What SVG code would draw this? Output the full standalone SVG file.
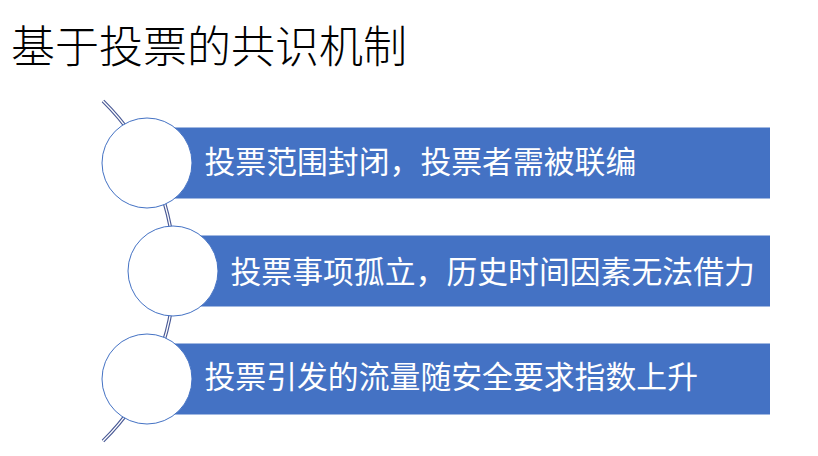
<svg xmlns="http://www.w3.org/2000/svg" width="818" height="456" viewBox="0 0 818 456">
  <style>
    .bar { fill: #4472C4; }
    .dot { fill: #FFFFFF; stroke: #4472C4; stroke-width: 1; }
    .lbl { fill: #FFFFFF; font-family: "Noto Sans CJK SC", "Noto Sans", sans-serif; font-size: 30.85px; }
    .title { fill: #000000; font-family: "Noto Sans CJK SC", "Noto Sans", sans-serif; font-size: 44px; font-weight: 300; }
    .arcOuter { fill: none; stroke: #4a5a96; stroke-width: 3.6; }
    .arcInner { fill: none; stroke: #FFFFFF; stroke-width: 1.3; }
  </style>
  <rect width="818" height="456" fill="#FFFFFF"/>
  <text id="title" class="title" x="11" y="62.5">基于投票的共识机制</text>
  <g id="connectors">
    <path class="arcOuter" d="M 103 101 A 238.3 238.3 0 0 1 103 441"/>
    <path class="arcInner" d="M 103 101 A 238.3 238.3 0 0 1 103 441"/>
  </g>
  <g id="node1">
    <rect class="bar" x="147" y="127.5" width="623" height="71"/>
    <circle class="dot" cx="147" cy="163" r="45"/>
    <text class="lbl" x="204.5" y="173.4">投票范围封闭，投票者需被联编</text>
  </g>
  <g id="node2">
    <rect class="bar" x="173" y="235.5" width="597" height="71"/>
    <circle class="dot" cx="173" cy="271" r="45"/>
    <text class="lbl" x="230.5" y="283.4">投票事项孤立，历史时间因素无法借力</text>
  </g>
  <g id="node3">
    <rect class="bar" x="147" y="343.5" width="623" height="71"/>
    <circle class="dot" cx="147" cy="379" r="45"/>
    <text class="lbl" x="204.5" y="388.4">投票引发的流量随安全要求指数上升</text>
  </g>
</svg>
